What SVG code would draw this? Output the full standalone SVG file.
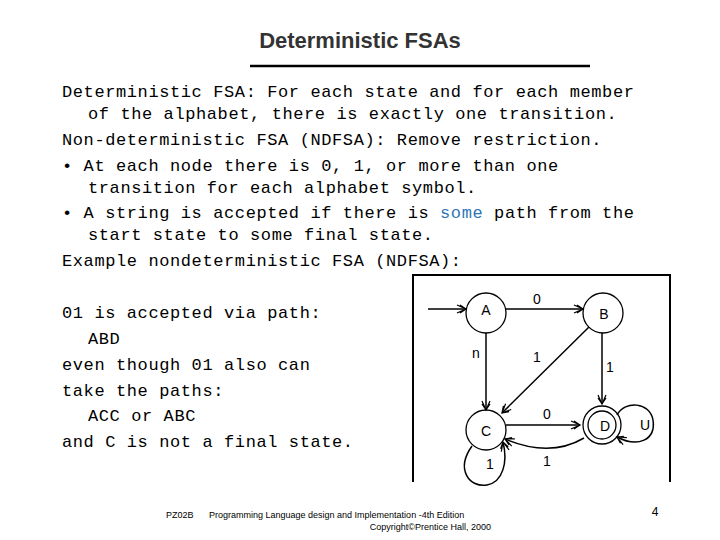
<svg xmlns="http://www.w3.org/2000/svg" width="720" height="540" viewBox="0 0 720 540">
<style>
.m{font-family:"Liberation Mono",monospace;font-size:17px;letter-spacing:0.6px;fill:#000}
.b{fill:#2e75b6}
.s{font-family:"Liberation Sans",Arial,sans-serif;fill:#000}
.n{fill:none;stroke:#000;stroke-width:1.3}
.e{fill:none;stroke:#000;stroke-width:1.5}
.l{font-family:"Liberation Sans",Arial,sans-serif;font-size:14px;fill:#000;text-anchor:middle}
</style>
<defs>
<marker id="a" markerWidth="12" markerHeight="10" refX="10" refY="5" orient="auto" markerUnits="userSpaceOnUse">
<path d="M1,1 L10,5 L1,9 M4,1 L10,5 L4,9" fill="none" stroke="#000" stroke-width="1.2"/>
</marker>
</defs>
<rect width="720" height="540" fill="#fff"/>
<text x="360" y="48" class="s" font-size="22" font-weight="bold" fill="#333" style="fill:#333" text-anchor="middle">Deterministic FSAs</text>
<line x1="250" y1="66" x2="590" y2="66" stroke="#000" stroke-width="2.5"/>
<text class="m" x="62" y="97">Deterministic FSA: For each state and for each member</text>
<text class="m" x="88" y="119">of the alphabet, there is exactly one transition.</text>
<text class="m" x="62" y="145">Non-deterministic FSA (NDFSA): Remove restriction.</text>
<text class="m" x="62" y="171">•  At each node there is 0, 1, or more than one</text>
<text class="m" x="88" y="193">transition for each alphabet symbol.</text>
<text class="m" x="62" y="218">•  A string is accepted if there is <tspan class="b">some</tspan> path from the</text>
<text class="m" x="88" y="240">start state to some final state.</text>
<text class="m" x="62" y="266">Example nondeterministic FSA (NDFSA):</text>
<text class="m" x="62" y="318">01 is accepted via path:</text>
<text class="m" x="88" y="344">ABD</text>
<text class="m" x="62" y="370">even though 01 also can</text>
<text class="m" x="62" y="396">take the paths:</text>
<text class="m" x="88" y="421">ACC or ABC</text>
<text class="m" x="62" y="447">and C is not a final state.</text>
<path d="M413,482 V275 H670 V482" fill="none" stroke="#000" stroke-width="2"/>
<g id="connectors">
<line class="e" x1="428" y1="309" x2="466" y2="309" marker-end="url(#a)"/>
<line class="e" x1="506" y1="309" x2="583" y2="309" marker-end="url(#a)"/>
<line class="e" x1="486" y1="333" x2="486" y2="410" marker-end="url(#a)"/>
<line class="e" x1="589" y1="327" x2="502" y2="413" marker-end="url(#a)"/>
<line class="e" x1="602" y1="333" x2="602" y2="404" marker-end="url(#a)"/>
<line class="e" x1="506" y1="425" x2="580" y2="425" marker-end="url(#a)"/>
<path class="e" d="M584,438 Q550,458 505,439" marker-end="url(#a)"/>
<path class="e" d="M472,446 C455,470 470,488 487,485 C503,482 508,462 503,442" marker-end="url(#a)"/>
<path class="e" d="M617,415 C625,400 650,402 653,420 C656,440 638,448 617,437" marker-end="url(#a)"/>
<text class="l" x="537" y="304">0</text>
<text class="l" x="476" y="358">n</text>
<text class="l" x="537" y="362">1</text>
<text class="l" x="610" y="372">1</text>
<text class="l" x="547" y="419">0</text>
<text class="l" x="645" y="430">U</text>
<text class="l" x="547" y="466">1</text>
<text class="l" x="490" y="469">1</text>
</g>
<g id="A"><circle class="n" cx="486" cy="313" r="20" fill="#fff"/><text class="l" x="486" y="315">A</text></g>
<g id="B"><circle class="n" cx="603" cy="313" r="20" fill="#fff"/><text class="l" x="604" y="319">B</text></g>
<g id="C"><circle class="n" cx="486" cy="430" r="20" fill="#fff"/><text class="l" x="486" y="436">C</text></g>
<g id="D"><circle class="n" cx="602" cy="425" r="19" fill="#fff"/><circle class="n" cx="602" cy="425" r="14"/><text class="l" x="605" y="431">D</text></g>
<text x="166" y="518" class="s" font-size="9">PZ02B</text>
<text x="209" y="518" class="s" font-size="9">Programming Language design and Implementation -4th Edition</text>
<text x="491" y="530" class="s" font-size="9" text-anchor="end">Copyright©Prentice Hall, 2000</text>
<text x="655" y="516" class="s" font-size="12" text-anchor="middle">4</text>
</svg>
